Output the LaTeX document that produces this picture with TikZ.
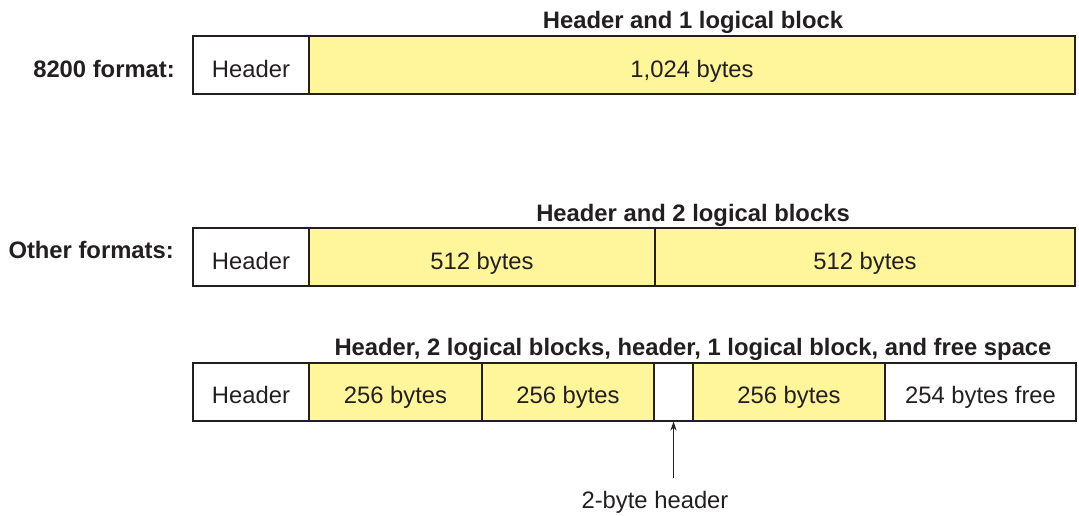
\documentclass[tikz,border=0pt]{standalone}
\usepackage{fontspec}
\setmainfont{Liberation Sans}
\usetikzlibrary{arrows.meta}
\definecolor{ink}{HTML}{231F20}
\definecolor{blockyellow}{HTML}{FFF59B}
\begin{document}
\begin{tikzpicture}[x=1pt,y=-1pt,
  cell/.style={draw=ink, line width=2pt, minimum height=58pt, inner sep=0pt,
    text=ink, font=\fontsize{23.8}{26}\selectfont, fill=white,
    text height=28pt, text depth=4pt},
  data/.style={cell, fill=blockyellow},
  title/.style={text=ink, font=\fontsize{23.8}{26}\selectfont\bfseries, inner sep=0pt, anchor=base},
  rowlabel/.style={title, anchor=base east},
  note/.style={text=ink, font=\fontsize{23.8}{26}\selectfont, inner sep=0pt, anchor=base},
  pointer/.style={draw=ink, line width=1.5pt, -{Stealth[length=9pt,width=6pt]}}]
\useasboundingbox (0,0) rectangle (1079,515);
% Row 1
\node[title] (t1) at (693,28) {Header and 1 logical block};
\node[rowlabel] (l1) at (175,77) {8200 format:};
\node[cell, minimum width=116pt] (h1) at (251,65) {Header};
\node[data, minimum width=766pt] (d1) at (692,65) {1,024 bytes};
% Row 2
\node[title] (t2) at (693,221) {Header and 2 logical blocks};
\node[rowlabel] (l2) at (174,258) {Other formats:};
\node[cell, minimum width=116pt] (h2) at (251,257) {Header};
\node[data, minimum width=346pt] (d2a) at (482,257) {512 bytes};
\node[data, minimum width=420pt] (d2b) at (865,257) {512 bytes};
% Row 3
\node[title] (t3) at (693,355) {Header, 2 logical blocks, header, 1 logical block, and free space};
\node[cell, minimum width=116pt] (h3) at (251,391.5) {Header};
\node[data, minimum width=173pt] (d3a) at (395.5,391.5) {256 bytes};
\node[data, minimum width=172pt] (d3b) at (568,391.5) {256 bytes};
\node[cell, minimum width=39pt] (h3b) at (673.5,391.5) {};
\node[data, minimum width=192pt] (d3c) at (789,391.5) {256 bytes};
\node[cell, minimum width=191pt] (f3) at (980.5,391.5) {254 bytes free};
% Pointer
\coordinate (ptail) at (673.5,478);
\node[note] (n3) at (655,508) {2-byte header};
\draw[pointer] (ptail) -- (h3b.south);
\end{tikzpicture}
\end{document}
